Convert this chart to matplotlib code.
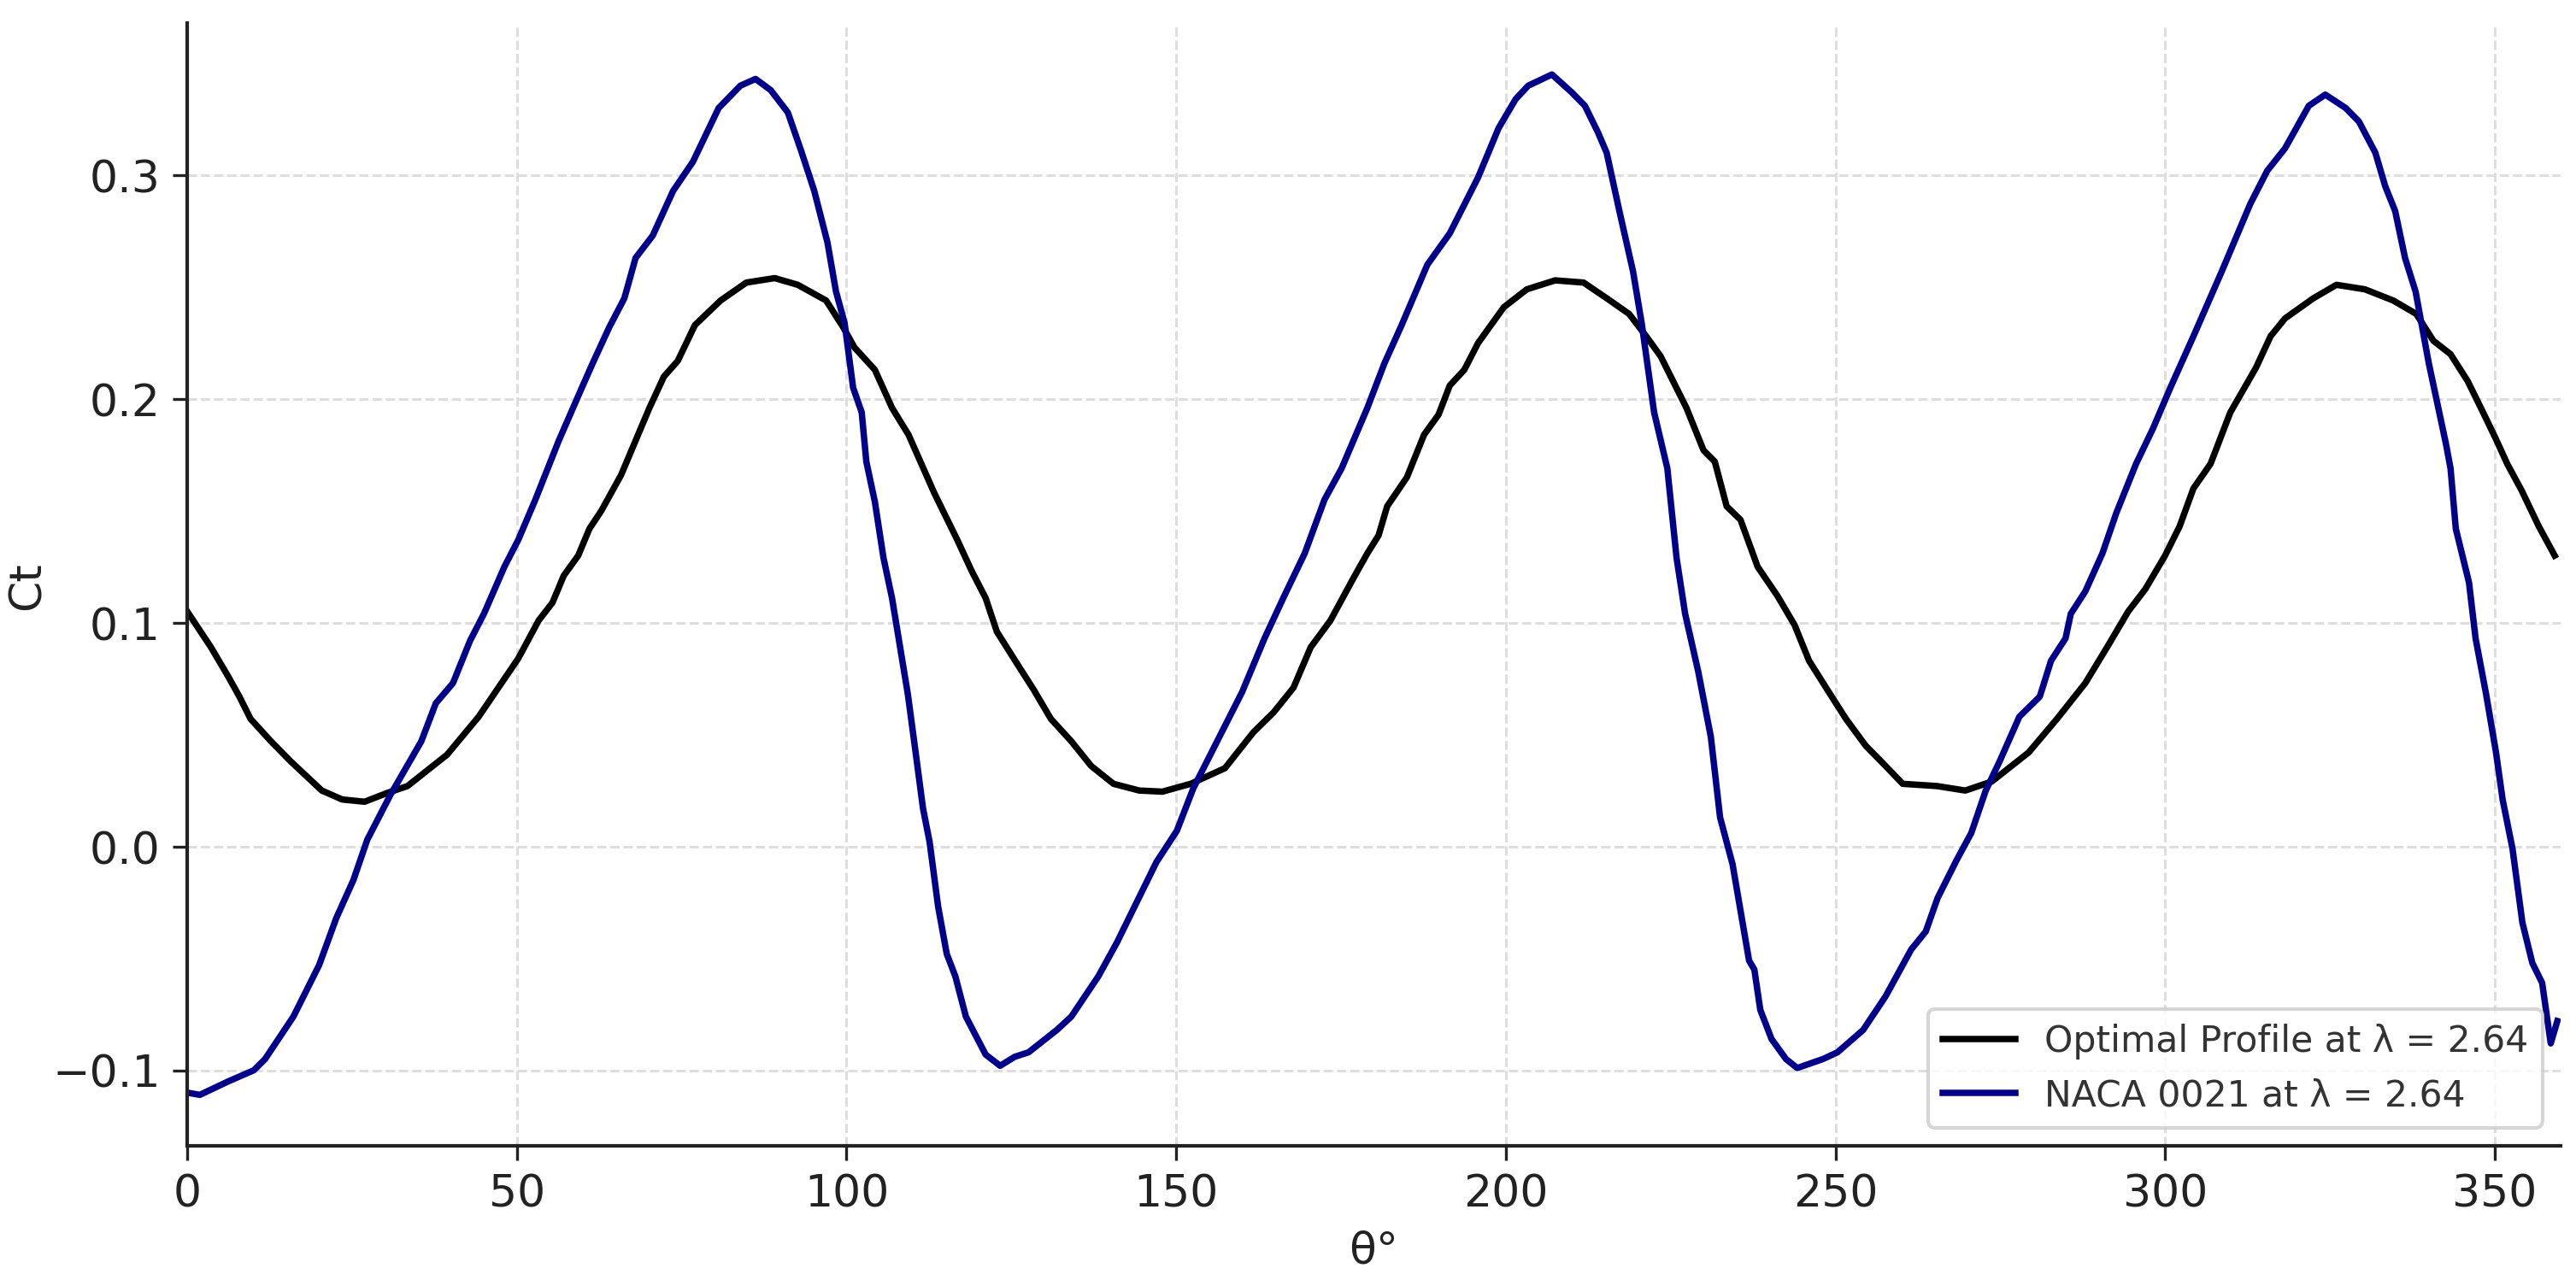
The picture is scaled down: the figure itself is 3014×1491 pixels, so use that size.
import matplotlib
matplotlib.use("Agg")
import matplotlib.pyplot as plt

# Ct over one revolution
theta_opt = [0, 3.6, 6.2, 7.9, 9.6, 12.7, 15.7, 20.4, 23.5, 26.9, 30.4, 33.4, 36.4, 39.4,
             44.2, 47.2, 50.2, 53.3, 55.4, 57.1, 59.3, 61.0, 62.8, 65.8, 70.1, 72.3, 74.4,
             77.0, 80.9, 84.8, 89.1, 92.6, 96.9, 99.5, 101.2, 104.3, 106.9, 109.4, 113.3,
             116.8, 119.0, 121.1, 122.8, 125.8, 128.4, 131.0, 134.1, 137.1, 140.5, 144.4,
             147.9, 152.2, 157.4, 161.7, 164.8, 167.8, 170.4, 173.4, 176.9, 179.0, 180.7,
             182.0, 185.0, 187.6, 189.8, 191.5, 193.7, 195.8, 199.7, 203.2, 207.5, 211.8,
             215.3, 218.7, 221.3, 223.5, 227.4, 230.0, 231.7, 233.5, 235.6, 238.2, 241.2,
             243.8, 246.0, 249.0, 251.6, 254.6, 257.6, 260.2, 265.4, 269.7, 273.7, 279.3,
             283.6, 287.9, 291.4, 294.4, 297.0, 300.0, 302.2, 304.3, 306.9, 309.9, 313.8,
             316.0, 318.2, 322.5, 326.0, 330.3, 334.6, 338.1, 340.7, 343.3, 345.9, 348.4,
             350.2, 351.9, 354.1, 356.7, 359.1]
ct_opt = [0.105, 0.089, 0.076, 0.067, 0.057, 0.047, 0.038, 0.025, 0.021, 0.020, 0.024, 0.027,
          0.034, 0.041, 0.058, 0.071, 0.084, 0.101, 0.109, 0.121, 0.130, 0.142, 0.150, 0.166,
          0.196, 0.210, 0.217, 0.233, 0.244, 0.252, 0.254, 0.251, 0.244, 0.232, 0.223, 0.213,
          0.196, 0.184, 0.158, 0.137, 0.123, 0.111, 0.096, 0.082, 0.070, 0.057, 0.047, 0.036,
          0.028, 0.025, 0.0245, 0.028, 0.035, 0.051, 0.060, 0.071, 0.089, 0.101, 0.120, 0.131,
          0.139, 0.152, 0.165, 0.184, 0.193, 0.206, 0.213, 0.225, 0.241, 0.249, 0.253, 0.252,
          0.245, 0.238, 0.228, 0.219, 0.196, 0.177, 0.172, 0.152, 0.146, 0.125, 0.112, 0.099,
          0.083, 0.069, 0.057, 0.045, 0.036, 0.028, 0.027, 0.025, 0.029, 0.042, 0.057, 0.073,
          0.090, 0.105, 0.115, 0.130, 0.143, 0.160, 0.171, 0.194, 0.214, 0.228, 0.236, 0.245,
          0.251, 0.249, 0.244, 0.238, 0.226, 0.220, 0.208, 0.193, 0.182, 0.171, 0.159, 0.143,
          0.130]

theta_naca = [0, 1.9, 6.2, 10.1, 11.8, 16.1, 20.0, 22.6, 25.2, 27.3, 30.8, 35.5, 37.7, 40.3,
              42.9, 45.0, 48.1, 50.2, 52.8, 56.3, 59.7, 61.5, 64.0, 66.3, 68.0, 70.6, 73.7,
              76.7, 80.6, 83.9, 86.2, 88.5, 91.1, 93.1, 95.1, 97.1, 98.4, 99.7, 101.0, 102.3,
              103.0, 104.3, 105.6, 106.9, 107.9, 109.3, 110.3, 111.6, 112.6, 113.9, 115.2,
              116.5, 118.1, 121.1, 123.3, 125.5, 127.6, 131.9, 134.1, 138.2, 141.0, 144.0,
              147.0, 150.1, 152.6, 155.7, 160.0, 163.4, 166.4, 169.5, 172.5, 175.1, 179.0,
              181.6, 184.2, 188.1, 191.5, 195.8, 198.9, 201.5, 203.4, 207.0, 210.0, 212.0,
              214.0, 215.3, 217.3, 219.3, 220.6, 222.5, 224.5, 225.9, 227.2, 229.2, 231.1,
              232.5, 234.4, 235.8, 236.9, 237.7, 238.6, 240.3, 242.5, 244.2, 248.1, 250.3,
              254.2, 257.6, 261.5, 263.7, 265.5, 268.4, 270.6, 272.8, 274.9, 277.9, 281.0,
              282.7, 284.9, 285.7, 287.9, 290.5, 292.6, 295.6, 298.2, 300.8, 304.3, 308.6,
              312.9, 315.5, 318.2, 321.8, 324.3, 327.4, 329.4, 331.9, 333.4, 334.9, 336.4,
              338.0, 340.0, 342.6, 343.3, 344.1, 346.1, 347.1, 348.7, 350.2, 351.2, 352.7,
              354.2, 355.7, 357.2, 358.5, 359.5]
ct_naca = [-0.110, -0.111, -0.105, -0.100, -0.095, -0.076, -0.053, -0.032, -0.015, 0.003,
           0.023, 0.047, 0.064, 0.073, 0.092, 0.104, 0.125, 0.137, 0.155, 0.181, 0.204, 0.216,
           0.232, 0.245, 0.263, 0.273, 0.293, 0.306, 0.330, 0.340, 0.343, 0.338, 0.328, 0.311,
           0.293, 0.270, 0.248, 0.234, 0.205, 0.194, 0.172, 0.154, 0.129, 0.111, 0.093, 0.068,
           0.046, 0.017, 0.002, -0.027, -0.048, -0.058, -0.076, -0.093, -0.098, -0.094, -0.092,
           -0.082, -0.076, -0.058, -0.043, -0.025, -0.007, 0.007, 0.026, 0.044, 0.069, 0.093,
           0.112, 0.131, 0.155, 0.169, 0.196, 0.216, 0.233, 0.260, 0.274, 0.299, 0.321, 0.334,
           0.340, 0.345, 0.337, 0.331, 0.319, 0.310, 0.283, 0.257, 0.234, 0.194, 0.169, 0.129,
           0.104, 0.078, 0.049, 0.013, -0.008, -0.032, -0.051, -0.055, -0.073, -0.086, -0.095,
           -0.099, -0.095, -0.092, -0.082, -0.067, -0.046, -0.038, -0.023, -0.006, 0.006, 0.025,
           0.038, 0.058, 0.067, 0.083, 0.093, 0.104, 0.114, 0.131, 0.149, 0.171, 0.187, 0.205,
           0.228, 0.257, 0.287, 0.302, 0.312, 0.331, 0.336, 0.330, 0.324, 0.310, 0.295, 0.284,
           0.263, 0.248, 0.216, 0.180, 0.169, 0.142, 0.118, 0.093, 0.068, 0.042, 0.021, -0.001,
           -0.034, -0.052, -0.061, -0.088, -0.078]

label_opt = "Optimal Profile at λ = 2.64"
label_naca = "NACA 0021 at λ = 2.64"

fig, ax = plt.subplots(figsize=(10.047, 4.973), dpi=300)
fig.subplots_adjust(left=0.0727, right=0.994, bottom=0.1005, top=0.981)

ax.plot(theta_opt, ct_opt, color="black", lw=1.8, label=label_opt)
ax.plot(theta_naca, ct_naca, color="#00008b", lw=1.8, label=label_naca)

ax.set_xlim(0, 360)
ax.set_xlabel("θ°", fontsize=12.5, color="#222222")
ax.set_ylabel("Ct", fontsize=12.5, color="#222222")
ax.yaxis.set_label_coords(-0.058, 0.5)

# light dashed grid, only left/bottom spines
ax.grid(True, linestyle="--", color="#dddddd", linewidth=0.7)
ax.set_axisbelow(True)
for side in ["top", "right"]:
    ax.spines[side].set_visible(False)
for side in ["left", "bottom"]:
    ax.spines[side].set_color("#222222")
    ax.spines[side].set_linewidth(1.0)
ax.tick_params(labelsize=12.5, colors="#222222", direction="out", length=4)

leg = ax.legend(loc="lower right", fontsize=10.2, edgecolor="#cccccc", framealpha=0.8)
for t in leg.get_texts():
    t.set_color("#333333")

fig.savefig("out.png", dpi=300)
